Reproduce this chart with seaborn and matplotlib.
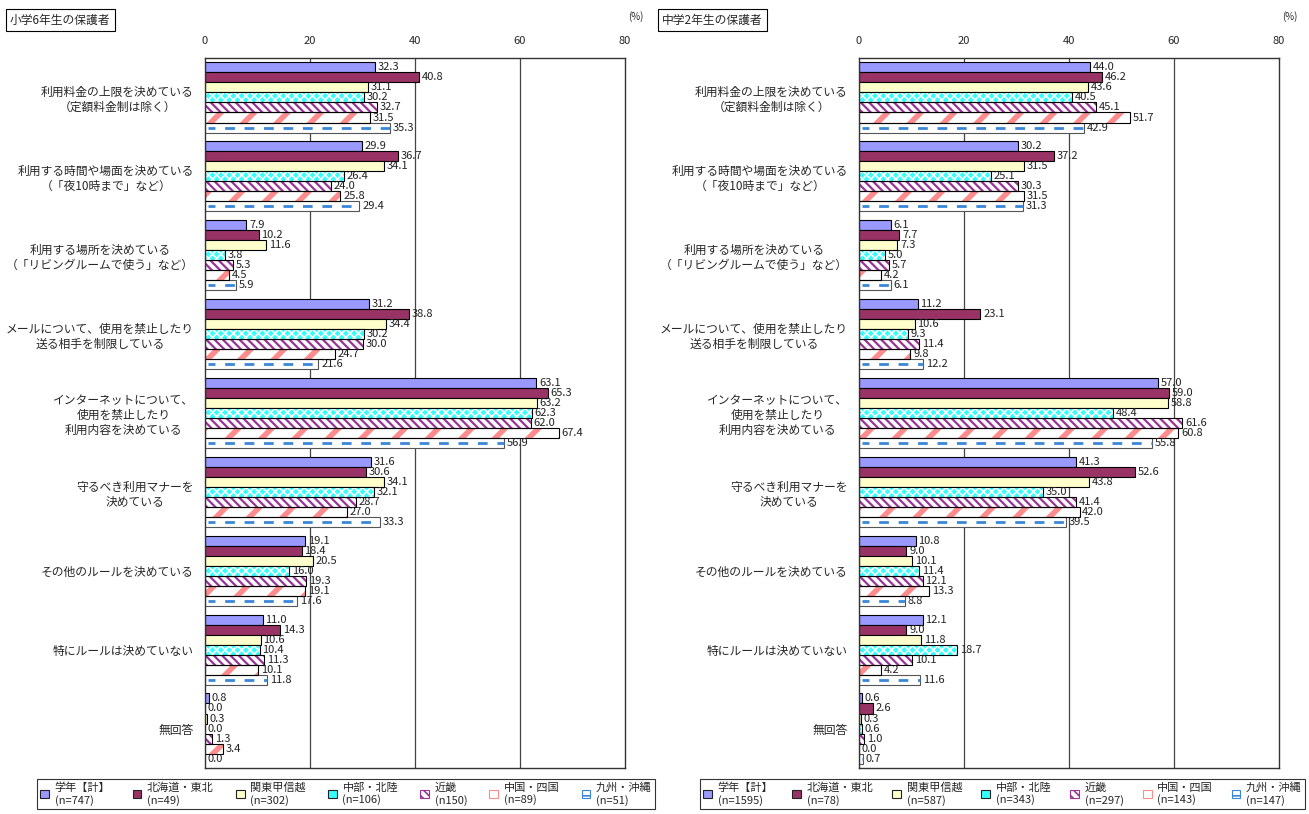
"""小学6年生・中学2年生の保護者: 携帯電話の利用ルール (地域別)."""

import matplotlib.pyplot as plt
import pandas as pd
import seaborn as sns
from matplotlib.patches import Patch, Rectangle

# カテゴリ
categories = [
    "利用料金の上限を決めている\n（定額料金制は除く）",
    "利用する時間や場面を決めている\n（「夜10時まで」など）",
    "利用する場所を決めている\n（「リビングルームで使う」など）",
    "メールについて、使用を禁止したり\n送る相手を制限している",
    "インターネットについて、\n使用を禁止したり\n利用内容を決めている",
    "守るべき利用マナーを\n決めている",
    "その他のルールを決めている",
    "特にルールは決めていない",
    "無回答",
]
regions = ["学年【計】", "北海道・東北", "関東甲信越", "中部・北陸", "近畿", "中国・四国", "九州・沖縄"]

# 小学6年生の保護者
elem_n = ["(n=747)", "(n=49)", "(n=302)", "(n=106)", "(n150)", "(n=89)", "(n=51)"]
elem_total = [32.3, 29.9, 7.9, 31.2, 63.1, 31.6, 19.1, 11.0, 0.8]
elem_hokkaido = [40.8, 36.7, 10.2, 38.8, 65.3, 30.6, 18.4, 14.3, 0.0]
elem_kanto = [31.1, 34.1, 11.6, 34.4, 63.2, 34.1, 20.5, 10.6, 0.3]
elem_chubu = [30.2, 26.4, 3.8, 30.2, 62.3, 32.1, 16.0, 10.4, 0.0]
elem_kinki = [32.7, 24.0, 5.3, 30.0, 62.0, 28.7, 19.3, 11.3, 1.3]
elem_chugoku = [31.5, 25.8, 4.5, 24.7, 67.4, 27.0, 19.1, 10.1, 3.4]
elem_kyushu = [35.3, 29.4, 5.9, 21.6, 56.9, 33.3, 17.6, 11.8, 0.0]

# 中学2年生の保護者
jh_n = ["(n=1595)", "(n=78)", "(n=587)", "(n=343)", "(n=297)", "(n=143)", "(n=147)"]
jh_total = [44.0, 30.2, 6.1, 11.2, 57.0, 41.3, 10.8, 12.1, 0.6]
jh_hokkaido = [46.2, 37.2, 7.7, 23.1, 59.0, 52.6, 9.0, 9.0, 2.6]
jh_kanto = [43.6, 31.5, 7.3, 10.6, 58.8, 43.8, 10.1, 11.8, 0.3]
jh_chubu = [40.5, 25.1, 5.0, 9.3, 48.4, 35.0, 11.4, 18.7, 0.6]
jh_kinki = [45.1, 30.3, 5.7, 11.4, 61.6, 41.4, 12.1, 10.1, 1.0]
jh_chugoku = [51.7, 31.5, 4.2, 9.8, 60.8, 42.0, 13.3, 4.2, 0.0]
jh_kyushu = [42.9, 31.3, 6.1, 12.2, 55.8, 39.5, 8.8, 11.6, 0.7]

# スタイル (塗り, ハッチ, ハッチ色)
faces = ["#9999FF", "#993366", "#FFFFCC", "#33FFFF", "#FFFFFF", "#FFFFFF", "#FFFFFF"]
hatches = [None, None, None, "xxxx", "\\\\\\\\", "/", None]
hatch_colors = [None, None, None, "#FFFFFF", "#993399", "#FF8C8C", None]
hatch_widths = [None, None, None, 1.2, 1.6, 4.0, None]
DASH_COLOR = "#3A86D8"


def build_frame(series):
    rows = []
    for region, values in zip(regions, series):
        for cat, v in zip(categories, values):
            rows.append({"カテゴリ": cat, "地域": region, "値": v})
    return pd.DataFrame(rows)


def draw_panel(ax, df):
    sns.barplot(
        data=df, y="カテゴリ", x="値", hue="地域", orient="h", ax=ax,
        palette=faces, width=0.89, gap=0, dodge=True, legend=False,
        edgecolor="black", linewidth=0.8, saturation=1,
    )
    for i, cont in enumerate(ax.containers):
        for p in cont.patches:
            x0, y0, w, h = p.get_x(), p.get_y(), p.get_width(), p.get_height()
            if hatches[i]:
                p.set_hatch(hatches[i])
                p.set_edgecolor(hatch_colors[i])
                p.set_linewidth(0)
                if hasattr(p, "set_hatch_linewidth"):
                    p.set_hatch_linewidth(hatch_widths[i])
                ax.add_patch(Rectangle((x0, y0), w, h, fill=False,
                                       edgecolor="black", lw=0.8, zorder=p.get_zorder() + 0.1))
            if i == 6:
                p.set_edgecolor("#555555")
                if w > 0.6:
                    ax.plot([x0 + 0.6, x0 + w], [y0 + h / 2] * 2, color=DASH_COLOR,
                            lw=2.0, ls=(1, (3.5, 3.5)), zorder=p.get_zorder() + 0.2,
                            dash_capstyle="butt")
        ax.bar_label(cont, fmt="%.1f", padding=2, fontsize=8, color="#222222")

    ax.set_xlim(0, 80)
    ax.set_ylim(len(categories) - 0.5, -0.5)
    ax.set_xticks([0, 20, 40, 60, 80])
    ax.xaxis.tick_top()
    ax.tick_params(axis="x", length=0, pad=9, labelsize=8)
    ax.set_yticks(range(len(categories)))
    ax.set_yticklabels(categories)
    ax.tick_params(axis="y", length=0, pad=8, labelsize=8.5)
    for lab in ax.get_yticklabels():
        lab.set_multialignment("center")
    ax.set_yticks([k + 0.5 for k in range(len(categories) - 1)], minor=True)
    ax.tick_params(axis="y", which="minor", direction="in", length=4, width=0.8, color="#333333")
    ax.set_xlabel("")
    ax.set_ylabel("")
    for x in (20, 40, 60):
        ax.axvline(x, color="#444444", lw=0.9, zorder=0)
    for s in ax.spines.values():
        s.set_visible(True)
        s.set_color("#333333")
        s.set_linewidth(1.0)


def legend_handles():
    handles = []
    for i in range(len(regions)):
        if i == 6:
            handles.append(Patch(facecolor="white", edgecolor=DASH_COLOR, hatch="--", lw=0.8))
        elif hatches[i] and i != 3:
            handles.append(Patch(facecolor=faces[i], edgecolor=hatch_colors[i], hatch=hatches[i], lw=0.8))
        else:
            handles.append(Patch(facecolor=faces[i], edgecolor="#222222", lw=0.8))
    return handles


sns.set_style("white")
plt.rcParams["font.family"] = ["Noto Sans CJK JP", "DejaVu Sans"]
plt.rcParams["hatch.linewidth"] = 1.2

fig = plt.figure(figsize=(13.09, 8.14), dpi=100)
W, H = 1309, 814
ax_l = fig.add_axes([205 / W, 1 - 768 / H, 420 / W, 710 / H])
ax_r = fig.add_axes([859 / W, 1 - 768 / H, 420 / W, 710 / H])

elem_series = [elem_total, elem_hokkaido, elem_kanto, elem_chubu, elem_kinki, elem_chugoku, elem_kyushu]
jh_series = [jh_total, jh_hokkaido, jh_kanto, jh_chubu, jh_kinki, jh_chugoku, jh_kyushu]

draw_panel(ax_l, build_frame(elem_series))
draw_panel(ax_r, build_frame(jh_series))

box = dict(facecolor="white", edgecolor="black", lw=0.8, pad=3)
fig.text(10 / W, 1 - 20 / H, "小学6年生の保護者", fontsize=8.5, va="center", bbox=box)
fig.text(662 / W, 1 - 20 / H, "中学2年生の保護者", fontsize=8.5, va="center", bbox=box)
fig.text(636 / W, 1 - 17 / H, "(%)", fontsize=7, va="center", ha="center")
fig.text(1290 / W, 1 - 17 / H, "(%)", fontsize=7, va="center", ha="center")

# 凡例枠: (左端, 右端) in px
for (x_left, x_right), ns in (((37, 655), elem_n), ((700, 1305), jh_n)):
    labels = [f"{r}\n{n}" for r, n in zip(regions, ns)]
    leg = fig.legend(
        legend_handles(), labels, loc="lower left",
        bbox_to_anchor=(x_left / W, 5 / H, (x_right - x_left) / W, 32 / H), mode="expand",
        ncol=7, fontsize=8, frameon=True, fancybox=False, edgecolor="black",
        handlelength=0.8, handleheight=0.8, handletextpad=0.5, columnspacing=0.6,
        borderpad=0.3, labelspacing=0.2, borderaxespad=0,
    )
    leg.get_frame().set_linewidth(0.8)

fig.savefig("out.png", dpi=100)
